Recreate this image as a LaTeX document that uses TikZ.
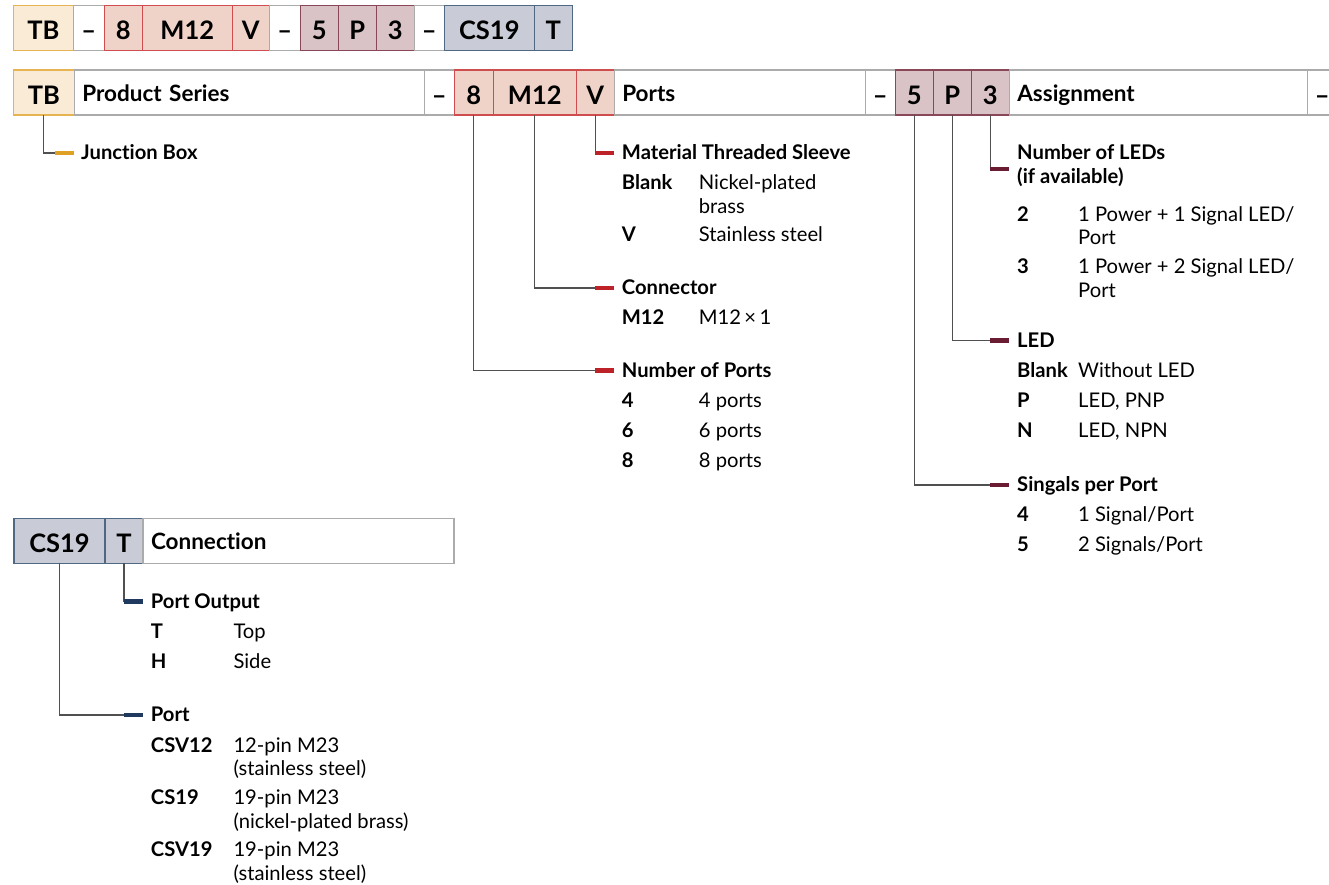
\documentclass[tikz,border=0pt]{standalone}
\usepackage{fontspec}
\setmainfont{Lato}[Ligatures=NoCommon]
\usepackage{array}
\usetikzlibrary{positioning}

\definecolor{tbfill}{HTML}{FAEBD7}
\definecolor{tbline}{HTML}{E6B450}
\definecolor{tbtick}{HTML}{DFA125}
\definecolor{portfill}{HTML}{F0D3C8}
\definecolor{portline}{HTML}{CF4D4F}
\definecolor{porttick}{HTML}{BE2229}
\definecolor{asgfill}{HTML}{D9C3C6}
\definecolor{asgline}{HTML}{8A4758}
\definecolor{asgtick}{HTML}{6A1C33}
\definecolor{confill}{HTML}{C9CCD7}
\definecolor{conline}{HTML}{4F6985}
\definecolor{contick}{HTML}{1F3A5E}
\definecolor{frame}{HTML}{ABABAB}
\definecolor{wirecol}{HTML}{505050}

\newcommand{\cdfont}{\fontsize{25.5}{30}\selectfont\bfseries}
\newcommand{\lbfont}{\fontsize{22.5}{26}\selectfont\bfseries}
\newcommand{\itfont}{\fontsize{20.2}{23.5}\selectfont}

\begin{document}
\begin{tikzpicture}[
  x=1pt, y=-1pt,
  box/.style={draw, line width=1.5pt, outer sep=0pt, inner sep=0pt, minimum height=45pt, text depth=0pt},
  codebox/.style={box, font=\cdfont, text height=23pt, minimum width=#1},
  tbcode/.style={codebox=#1, fill=tbfill, draw=tbline},
  portcode/.style={codebox=#1, fill=portfill, draw=portline},
  asgcode/.style={codebox=#1, fill=asgfill, draw=asgline},
  concode/.style={codebox=#1, fill=confill, draw=conline},
  dashbox/.style={box, draw=frame, fill=white, font=\cdfont, text height=23pt, minimum width=30pt},
  namebox/.style={box, draw=frame, fill=white, font=\lbfont, text height=18pt, inner xsep=8pt, text width=#1},
  entry/.style={anchor=base west, inner sep=0pt, font=\itfont},
  wire/.style={draw=wirecol, line width=1.3pt},
  bar/.style={draw=#1, line width=4.5pt}
]
\useasboundingbox (0,0) rectangle (1329,884);

% order code
\node[tbcode=60pt, anchor=north west] (c-tb) at (13.3,5.7) {TB};
\node[dashbox, minimum width=31pt, right=0pt of c-tb] (c-d1) {–};
\node[portcode=38pt, right=0pt of c-d1] (c-8) {8};
\node[portcode=90pt, right=0pt of c-8] (c-m12) {M12};
\node[portcode=37pt, right=0pt of c-m12] (c-v) {V};
\node[dashbox, minimum width=31pt, right=0pt of c-v] (c-d2) {–};
\node[asgcode=38pt, right=0pt of c-d2] (c-5) {5};
\node[asgcode=38pt, right=0pt of c-5] (c-p) {P};
\node[asgcode=38pt, right=0pt of c-p] (c-3) {3};
\node[dashbox, right=0pt of c-3] (c-d3) {–};
\node[concode=90pt, right=0pt of c-d3] (c-cs19) {CS19};
\node[concode=38pt, right=0pt of c-cs19] (c-t) {T};

% header row
\node[tbcode=61pt, anchor=north west] (tb) at (13.3,70) {TB};
\node[namebox=334pt, right=0pt of tb] (series) {Product Series};
\node[dashbox, right=0pt of series] (d1) {–};
\node[portcode=39pt, right=0pt of d1] (n8) {8};
\node[portcode=83pt, right=0pt of n8] (m12) {M12};
\node[portcode=38pt, right=0pt of m12] (v) {V};
\node[namebox=235pt, right=0pt of v] (ports) {Ports};
\node[dashbox, right=0pt of ports] (d2) {–};
\node[asgcode=38pt, right=0pt of d2] (n5) {5};
\node[asgcode=38pt, right=0pt of n5] (np) {P};
\node[asgcode=38pt, right=0pt of np] (n3) {3};
\node[namebox=282pt, right=0pt of n3] (assign) {Assignment};
\node[dashbox, right=0pt of assign] (d3) {–};

% connection row
\node[concode=91pt, anchor=north west] (cs19) at (14,518.3) {CS19};
\node[concode=38pt, right=0pt of cs19] (t) {T};
\node[namebox=295pt, right=0pt of t] (connection) {Connection};

% tick points
\coordinate (k-junction) at (55,153);
\coordinate (k-material) at (595,153);
\coordinate (k-connector) at (595,288);
\coordinate (k-numports) at (595,370.5);
\coordinate (k-numleds) at (990,169);
\coordinate (k-led) at (990,340.7);
\coordinate (k-signals) at (990,485);
\coordinate (k-output) at (124,601.7);
\coordinate (k-port) at (124,715);

\draw[wire] (tb.south) |- (k-junction);
\draw[wire] (v.south) |- (k-material);
\draw[wire] (m12.south) |- (k-connector);
\draw[wire] (n8.south) |- (k-numports);
\draw[wire] (n3.south) |- (k-numleds);
\draw[wire] (np.south) |- (k-led);
\draw[wire] (n5.south) |- (k-signals);
\draw[wire] (t.south) |- (k-output);
\draw[wire] (cs19.south) |- (k-port);

\draw[bar=tbtick] (k-junction) -- ++(19,0);
\draw[bar=porttick] (k-material) -- ++(18.5,0);
\draw[bar=porttick] (k-connector) -- ++(18.5,0);
\draw[bar=porttick] (k-numports) -- ++(18.5,0);
\draw[bar=asgtick] (k-numleds) -- ++(19,0);
\draw[bar=asgtick] (k-led) -- ++(19,0);
\draw[bar=asgtick] (k-signals) -- ++(19,0);
\draw[bar=contick] (k-output) -- ++(19,0);
\draw[bar=contick] (k-port) -- ++(19,0);

% option lists
\node[entry] (junction) at (81,159.5) {\bfseries Junction Box};

\node[entry] (material) at (621.7,159.5) {\begin{tabular}[t]{@{}>{\bfseries}p{77pt}@{}l@{}}
\multicolumn{2}{@{}l@{}}{\bfseries Material Threaded Sleeve}\\[6.5pt]
Blank & Nickel-plated\\
 & brass\\[4.5pt]
V & Stainless steel
\end{tabular}};

\node[entry] (connector) at (621.7,294.5) {\begin{tabular}[t]{@{}>{\bfseries}p{77pt}@{}l@{}}
\multicolumn{2}{@{}l@{}}{\bfseries Connector}\\[6.5pt]
M12 & M12\,×\,1
\end{tabular}};

\node[entry] (numports) at (621.7,377) {\begin{tabular}[t]{@{}>{\bfseries}p{77pt}@{}l@{}}
\multicolumn{2}{@{}l@{}}{\bfseries Number of Ports}\\[7pt]
4 & 4 ports\\[6.5pt]
6 & 6 ports\\[6.5pt]
8 & 8 ports
\end{tabular}};

\node[entry] (numleds) at (1017,159.5) {\begin{tabular}[t]{@{}>{\bfseries}p{61pt}@{}l@{}}
\multicolumn{2}{@{}l@{}}{\bfseries Number of LEDs}\\
\multicolumn{2}{@{}l@{}}{\bfseries (if available)}\\[14.5pt]
2 & 1 Power + 1 Signal LED/\\
 & Port\\[5.5pt]
3 & 1 Power + 2 Signal LED/\\
 & Port
\end{tabular}};

\node[entry] (led) at (1017,347) {\begin{tabular}[t]{@{}>{\bfseries}p{61pt}@{}l@{}}
\multicolumn{2}{@{}l@{}}{\bfseries LED}\\[6.5pt]
Blank & Without LED\\[6.5pt]
P & LED, PNP\\[6.5pt]
N & LED, NPN
\end{tabular}};

\node[entry] (signals) at (1017,491.5) {\begin{tabular}[t]{@{}>{\bfseries}p{61pt}@{}l@{}}
\multicolumn{2}{@{}l@{}}{\bfseries Singals per Port}\\[6.5pt]
4 & 1 Signal/Port\\[6.5pt]
5 & 2 Signals/Port
\end{tabular}};

\node[entry] (output) at (150.7,608) {\begin{tabular}[t]{@{}>{\bfseries}p{82.6pt}@{}l@{}}
\multicolumn{2}{@{}l@{}}{\bfseries Port Output}\\[6.5pt]
T & Top\\[6.5pt]
H & Side
\end{tabular}};

\node[entry] (port) at (150.7,721.5) {\begin{tabular}[t]{@{}>{\bfseries}p{82.6pt}@{}l@{}}
\multicolumn{2}{@{}l@{}}{\bfseries Port}\\[7pt]
CSV12 & 12-pin M23\\
 & (stainless steel)\\[5.5pt]
CS19 & 19-pin M23\\
 & (nickel-plated brass)\\[5pt]
CSV19 & 19-pin M23\\
 & (stainless steel)
\end{tabular}};
\end{tikzpicture}
\end{document}
